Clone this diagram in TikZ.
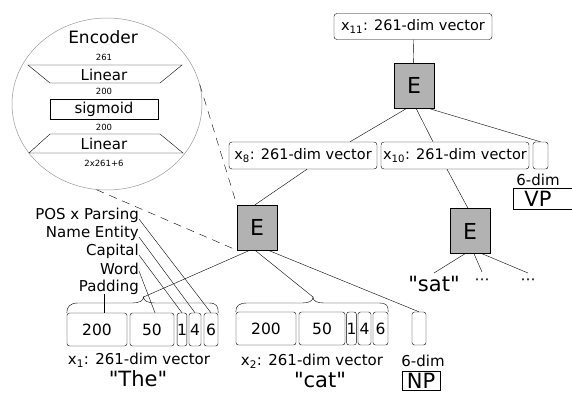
\documentclass[tikz,border=0pt]{standalone}
\usepackage{fontspec}
\setmainfont[Ligatures=TeXOff]{DejaVu Sans}
\usetikzlibrary{shapes.geometric,calc}
\newcommand{\fs}[1]{\fontsize{#1}{#1}\selectfont}
\newcommand{\qq}[1]{"#1"}
\begin{document}
\begin{tikzpicture}[x=1pt,y=-1pt,
  vec/.style={draw,rounded corners=3pt,inner sep=0pt,minimum height=26pt,font=\fs{14.5}},
  ebox/.style={draw,fill=gray!60,inner sep=0pt,minimum width=40pt,minimum height=45pt,font=\fs{22}},
  seg/.style={draw,rounded corners=2.5pt,inner sep=0pt,minimum height=33pt,font=\fs{15.5}},
  lab/.style={inner sep=0pt,anchor=east,font=\fs{15}},
  txt/.style={inner sep=0pt,font=\fs{15}},
  big/.style={inner sep=0pt,font=\fs{21}},
  small/.style={inner sep=0pt,font=\fs{8.5}},
  dsh/.style={dashed,dash pattern=on 8pt off 6pt}]
\useasboundingbox (0,0) rectangle (572,392);
% encoder
\node[draw=gray!80,line width=0.5pt,ellipse,inner sep=0pt,minimum width=190pt,minimum height=172pt] (enc) at (107,104) {};
\node[inner sep=0pt,font=\fs{17}] (enct) at (103,37) {Encoder};
\node[small] (n261) at (104,57) {261};
\draw (28,65) -- (182,65) -- (160,83) -- (50,83) -- cycle;
\node[txt] (lin1) at (104,74.5) {Linear};
\node[small] (n200a) at (104,91) {200};
\node[draw,minimum width=108pt,minimum height=20pt,inner sep=0pt,font=\fs{15}] (sig) at (104,109) {sigmoid};
\node[small] (n200b) at (104,127) {200};
\draw (50,134) -- (160,134) -- (183,153) -- (29,153) -- cycle;
\node[txt] (lin2) at (104,143.5) {Linear};
\node[small] (n2x) at (104,163) {2x261+6};
% tree
\node[vec,minimum width=158pt] (x11) at (413,26.5) {x\textsubscript{11}: 261-dim vector};
\node[ebox] (Et) at (414,85.5) {E};
\node[vec,minimum width=148pt,minimum height=27pt] (x8) at (303,155.5) {x\textsubscript{8}: 261-dim vector};
\node[vec,minimum width=148pt,minimum height=27pt] (x10) at (455,155.5) {x\textsubscript{10}: 261-dim vector};
\node[draw,rounded corners=2.5pt,minimum width=15pt,minimum height=27pt,inner sep=0pt] (vs) at (540.5,155.5) {};
\node[txt] (d6a) at (538,180) {6-dim};
\node[draw,minimum height=21pt,minimum width=67pt,inner sep=0pt] (vpb) at (546.5,198.5) {};
\node[big] (vp) at (538,198.5) {VP};
\node[ebox] (E1) at (257,227.5) {E};
\node[ebox] (E3) at (470,231) {E};
\node[big] (sat) at (434,284) {\qq{sat}};
\node[txt] (dots1) at (482,282) {⋯};
\node[txt] (dots2) at (528,282) {⋯};
\draw (x11) -- (Et);
\draw ([xshift=-7pt]Et.south) -- ([xshift=47pt]x8.north);
\draw ([xshift=2pt]Et.south) -- ([xshift=-22pt]x10.north);
\draw ([xshift=14pt]Et.south) -- (vs.north);
\draw ([xshift=4pt]x8.south) -- ([xshift=-2pt]E1.north);
\draw ([xshift=-8pt]x10.south) -- ([xshift=-2pt]E3.north);
\draw ([xshift=-5pt]E3.south) -- ([yshift=3pt]sat.north);
\draw ([xshift=4pt]E3.south) -- ([yshift=7pt]dots1.north);
\draw ([xshift=12pt]E3.south) -- ([yshift=6pt]dots2.north);
% bottom x1
\node[seg,minimum width=60pt] (a200) at (97,329.5) {200};
\node[seg,minimum width=44pt] (a50) at (152,329.5) {50};
\node[seg,minimum width=8pt] (a1) at (182,329.5) {1};
\node[seg,minimum width=12pt] (a4) at (195,329.5) {4};
\node[seg,minimum width=14pt] (a6) at (211,329.5) {6};
\coordinate (abt) at (143.5,297);
\draw (a200.north west) .. controls ([yshift=6pt]a200.north west) and (70,303) .. (78,303) -- (132,303)
  .. controls (139,303) and (143.5,301) .. (abt) .. controls (143.5,301) and (148,303) .. (155,303)
  -- (209,303) .. controls (217,303) and ([yshift=6pt]a6.north east) .. (a6.north east);
\node[txt] (x1l) at (139,360) {x\textsubscript{1}: 261-dim vector};
\node[big] (the) at (138,379) {\qq{The}};
% bottom x2
\node[seg,minimum width=60pt] (c200) at (266,328.5) {200};
\node[seg,minimum width=46pt] (c50) at (322,328.5) {50};
\node[seg,minimum width=9pt] (c1) at (351.5,328.5) {1};
\node[seg,minimum width=13pt] (c4) at (364.5,328.5) {4};
\node[seg,minimum width=15pt] (c6) at (380.5,328.5) {6};
\coordinate (cbt) at (313,297);
\draw (c200.north west) .. controls ([yshift=6pt]c200.north west) and (239,303) .. (247,303) -- (302,303)
  .. controls (309,303) and (313,301) .. (cbt) .. controls (313,301) and (317,303) .. (324,303)
  -- (379,303) .. controls (387,303) and ([yshift=6pt]c6.north east) .. (c6.north east);
\node[seg,minimum width=14pt] (np6) at (419,328.5) {};
\node[txt] (x2l) at (312,361) {x\textsubscript{2}: 261-dim vector};
\node[big] (cat) at (320,380) {\qq{cat}};
\node[txt] (d6b) at (423,361) {6-dim};
\node[draw,minimum width=38pt,minimum height=19pt,inner sep=0pt,font=\fs{21}] (np) at (421,380.5) {NP};
% E1 connectors
\draw ([xshift=-7pt]E1.south) -- (abt);
\draw ([xshift=-2pt]E1.south) -- (cbt);
\draw ([xshift=11pt]E1.south) -- (np6.north);
% dashed zoom lines
\draw[dsh] (enc.12) -- (E1.north west);
\draw[dsh] (enc.263) -- (E1.south west);
% labels
\node[lab] (pos) at (139,215) {POS x Parsing};
\node[lab] (ne) at (139,233) {Name Entity};
\node[lab] (cap) at (139,251) {Capital};
\node[lab] (wrd) at (139,269) {Word};
\node[lab] (pad) at (139,287) {Padding};
\draw ([yshift=-4pt]pos.east) -- (a6.north);
\draw ([yshift=-4pt]ne.east) -- (a4.north);
\draw ([yshift=-4pt]cap.east) -- (a1.north);
\draw ([yshift=-2pt]wrd.east) -- ([xshift=3pt]a50.north);
\draw ([xshift=-5pt]pad.south) -- ([xshift=-5pt]pad.south |- a200.north);
\end{tikzpicture}
\end{document}
